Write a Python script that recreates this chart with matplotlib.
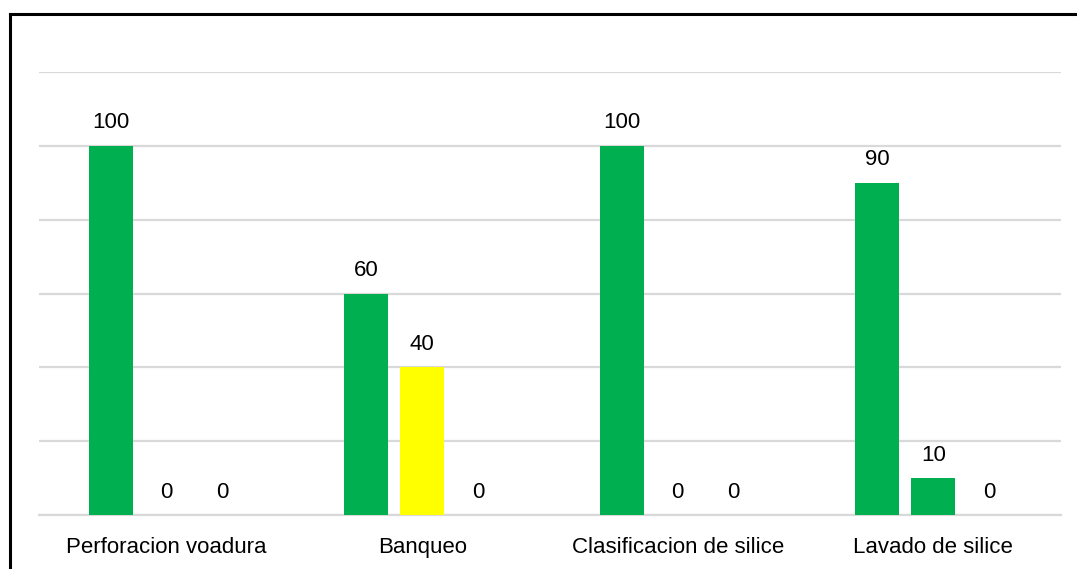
import matplotlib.pyplot as plt
import numpy as np
from matplotlib.lines import Line2D

# Data
categories = ['Perforacion voadura', 'Banqueo', 'Clasificacion de silice', 'Lavado de silice']
serie_1 = [100, 60, 100, 90]
serie_2 = [0, 40, 0, 10]
serie_3 = [0, 0, 0, 0]

# Colours per bar (series 2 changes by category)
colores_1 = ['#00B050'] * 4
colores_2 = ['#00B050', '#FFFF00', '#00B050', '#00B050']
colores_3 = ['#00B050'] * 4

plt.rcParams['font.family'] = ['Liberation Sans', 'DejaVu Sans']

W, H = 1077, 569
fig = plt.figure(figsize=(W / 100, H / 100), dpi=100)
ax = fig.add_axes([39 / W, 1 - 515 / H, (1061 - 39) / W, (515 - 72) / H])

x = np.arange(len(categories))
width = 0.172
step = 0.219

for off, vals, cols in [(-step, serie_1, colores_1), (0, serie_2, colores_2), (step, serie_3, colores_3)]:
    bars = ax.bar(x + off, vals, width, color=cols, zorder=3)
    for b, v in zip(bars, vals):
        ax.annotate(str(v), (b.get_x() + b.get_width() / 2, v),
                    textcoords='offset points', xytext=(0, 12.5),
                    ha='center', va='baseline', fontsize=16, color='black')

ax.set_xlim(-0.5, len(categories) - 0.5)
ax.set_ylim(0, 120)
ax.set_yticks(range(0, 121, 20))
ax.yaxis.grid(True, color='#d9d9d9', linewidth=1.6, zorder=0)
ax.tick_params(axis='y', left=False, labelleft=False)
ax.set_xticks(x)
ax.set_xticklabels(categories, fontsize=16)
ax.tick_params(axis='x', length=0, pad=15.5)
for s in ['top', 'right', 'left']:
    ax.spines[s].set_visible(False)
ax.spines['bottom'].set_color('#d9d9d9')
ax.spines['bottom'].set_linewidth(1.6)

# Border of the chart area (partly cut off in the original)
fig.add_artist(Line2D([10 / W, 1.0], [1 - 14 / H, 1 - 14 / H], color='black', linewidth=2.2))
fig.add_artist(Line2D([10 / W, 10 / W], [0, 1 - 14 / H], color='black', linewidth=2.2))

fig.savefig('out.png', dpi=100)
